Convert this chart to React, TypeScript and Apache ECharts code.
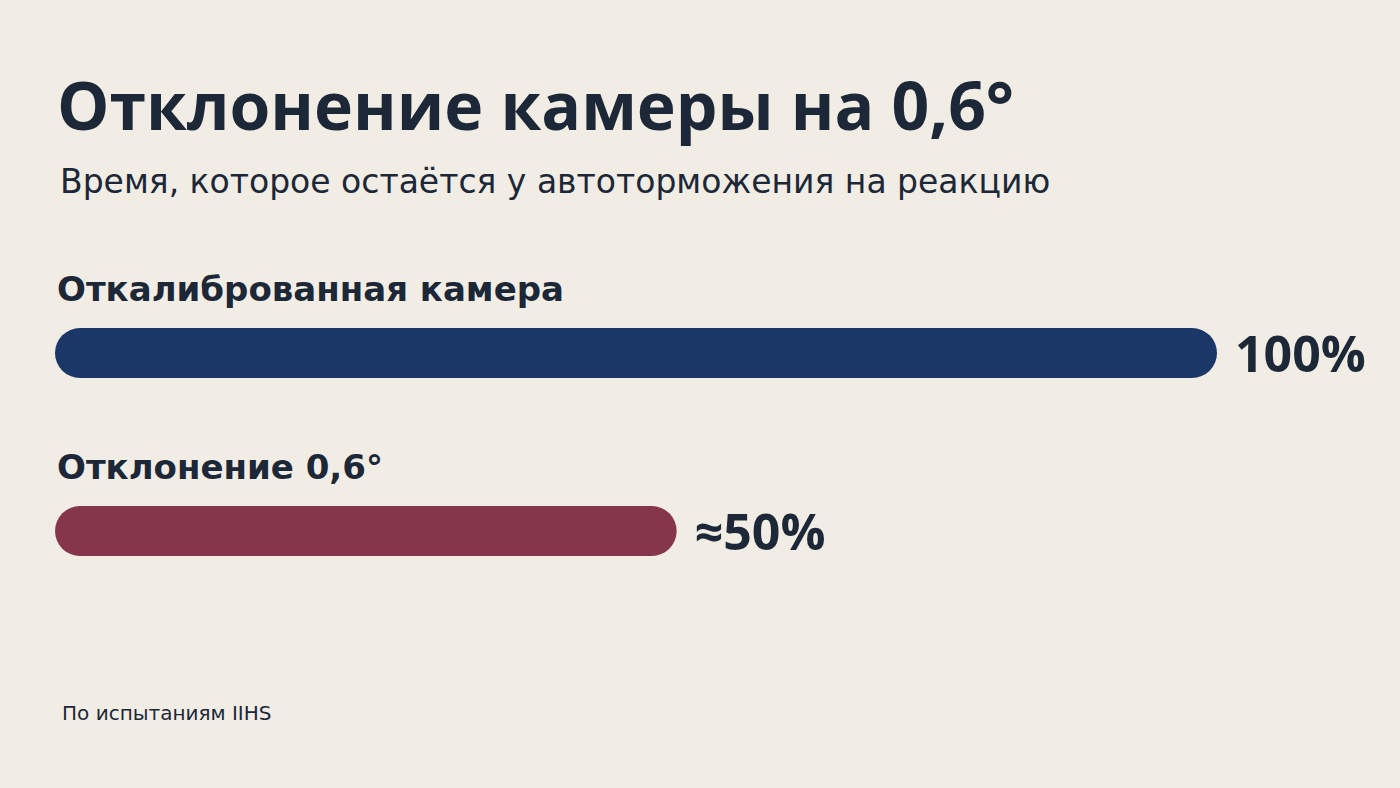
import React, { useEffect, useRef } from 'react'
import * as echarts from 'echarts'

const categories = ['Откалиброванная камера', 'Отклонение 0,6°']
const values = [100, 53.5]
const valueLabels = ['100%', '≈50%']
const barColors = ['#1b3768', '#86364b']

const TEXT = '#1c2737'
const WIDE = '"DejaVu Sans", "Noto Sans", sans-serif'
const FONT = '"Open Sans", "Noto Sans", sans-serif'

export default function App(): JSX.Element {
  const ref = useRef<HTMLDivElement>(null)

  useEffect(() => {
    if (!ref.current) return
    const chart = echarts.init(ref.current, undefined, { renderer: 'svg' })
    chart.setOption({
      animation: false,
      backgroundColor: '#f1ede4',
      textStyle: { fontFamily: FONT },
      title: [
        { text: 'Отклонение камеры на 0,6°', left: 52, top: 66,
          textStyle: { fontFamily: FONT, fontSize: 66, fontWeight: 'bold', color: TEXT, lineHeight: 66 } },
        { text: 'Время, которое остаётся у автоторможения на реакцию', left: 55, top: 160,
          textStyle: { fontFamily: WIDE, fontSize: 33, fontWeight: 'normal', color: TEXT, lineHeight: 33 } },
        { text: 'По испытаниям IIHS', left: 57, top: 698,
          textStyle: { fontFamily: WIDE, fontSize: 20, fontWeight: 'normal', color: TEXT, lineHeight: 20 } },
      ],
      grid: { left: 55, right: 183, top: 264, bottom: 168, containLabel: false },
      xAxis: { type: 'value', min: 0, max: 100, show: false },
      yAxis: {
        type: 'category', data: categories, inverse: true,
        axisLine: { show: false }, axisTick: { show: false }, splitLine: { show: false },
        axisLabel: {
          inside: true, margin: 2, verticalAlign: 'bottom', align: 'left',
          padding: [0, 0, 47, 0],
          fontFamily: WIDE, fontSize: 34, fontWeight: 'bold', color: TEXT,
        },
      },
      series: [{
        type: 'bar', barWidth: 50,
        data: values.map((v, i) => ({ value: v, itemStyle: { color: barColors[i], borderRadius: 25 } })),
        label: {
          show: true, position: 'right', distance: 18,
          formatter: (p: any) => valueLabels[p.dataIndex],
          fontFamily: FONT, fontSize: 50, fontWeight: 'bold', color: TEXT,
        },
      }],
    })
    return () => chart.dispose()
  }, [])

  return <div ref={ref} style={{ width: 1400, height: 788, position: 'fixed', left: 0, top: 0 }} />
}
